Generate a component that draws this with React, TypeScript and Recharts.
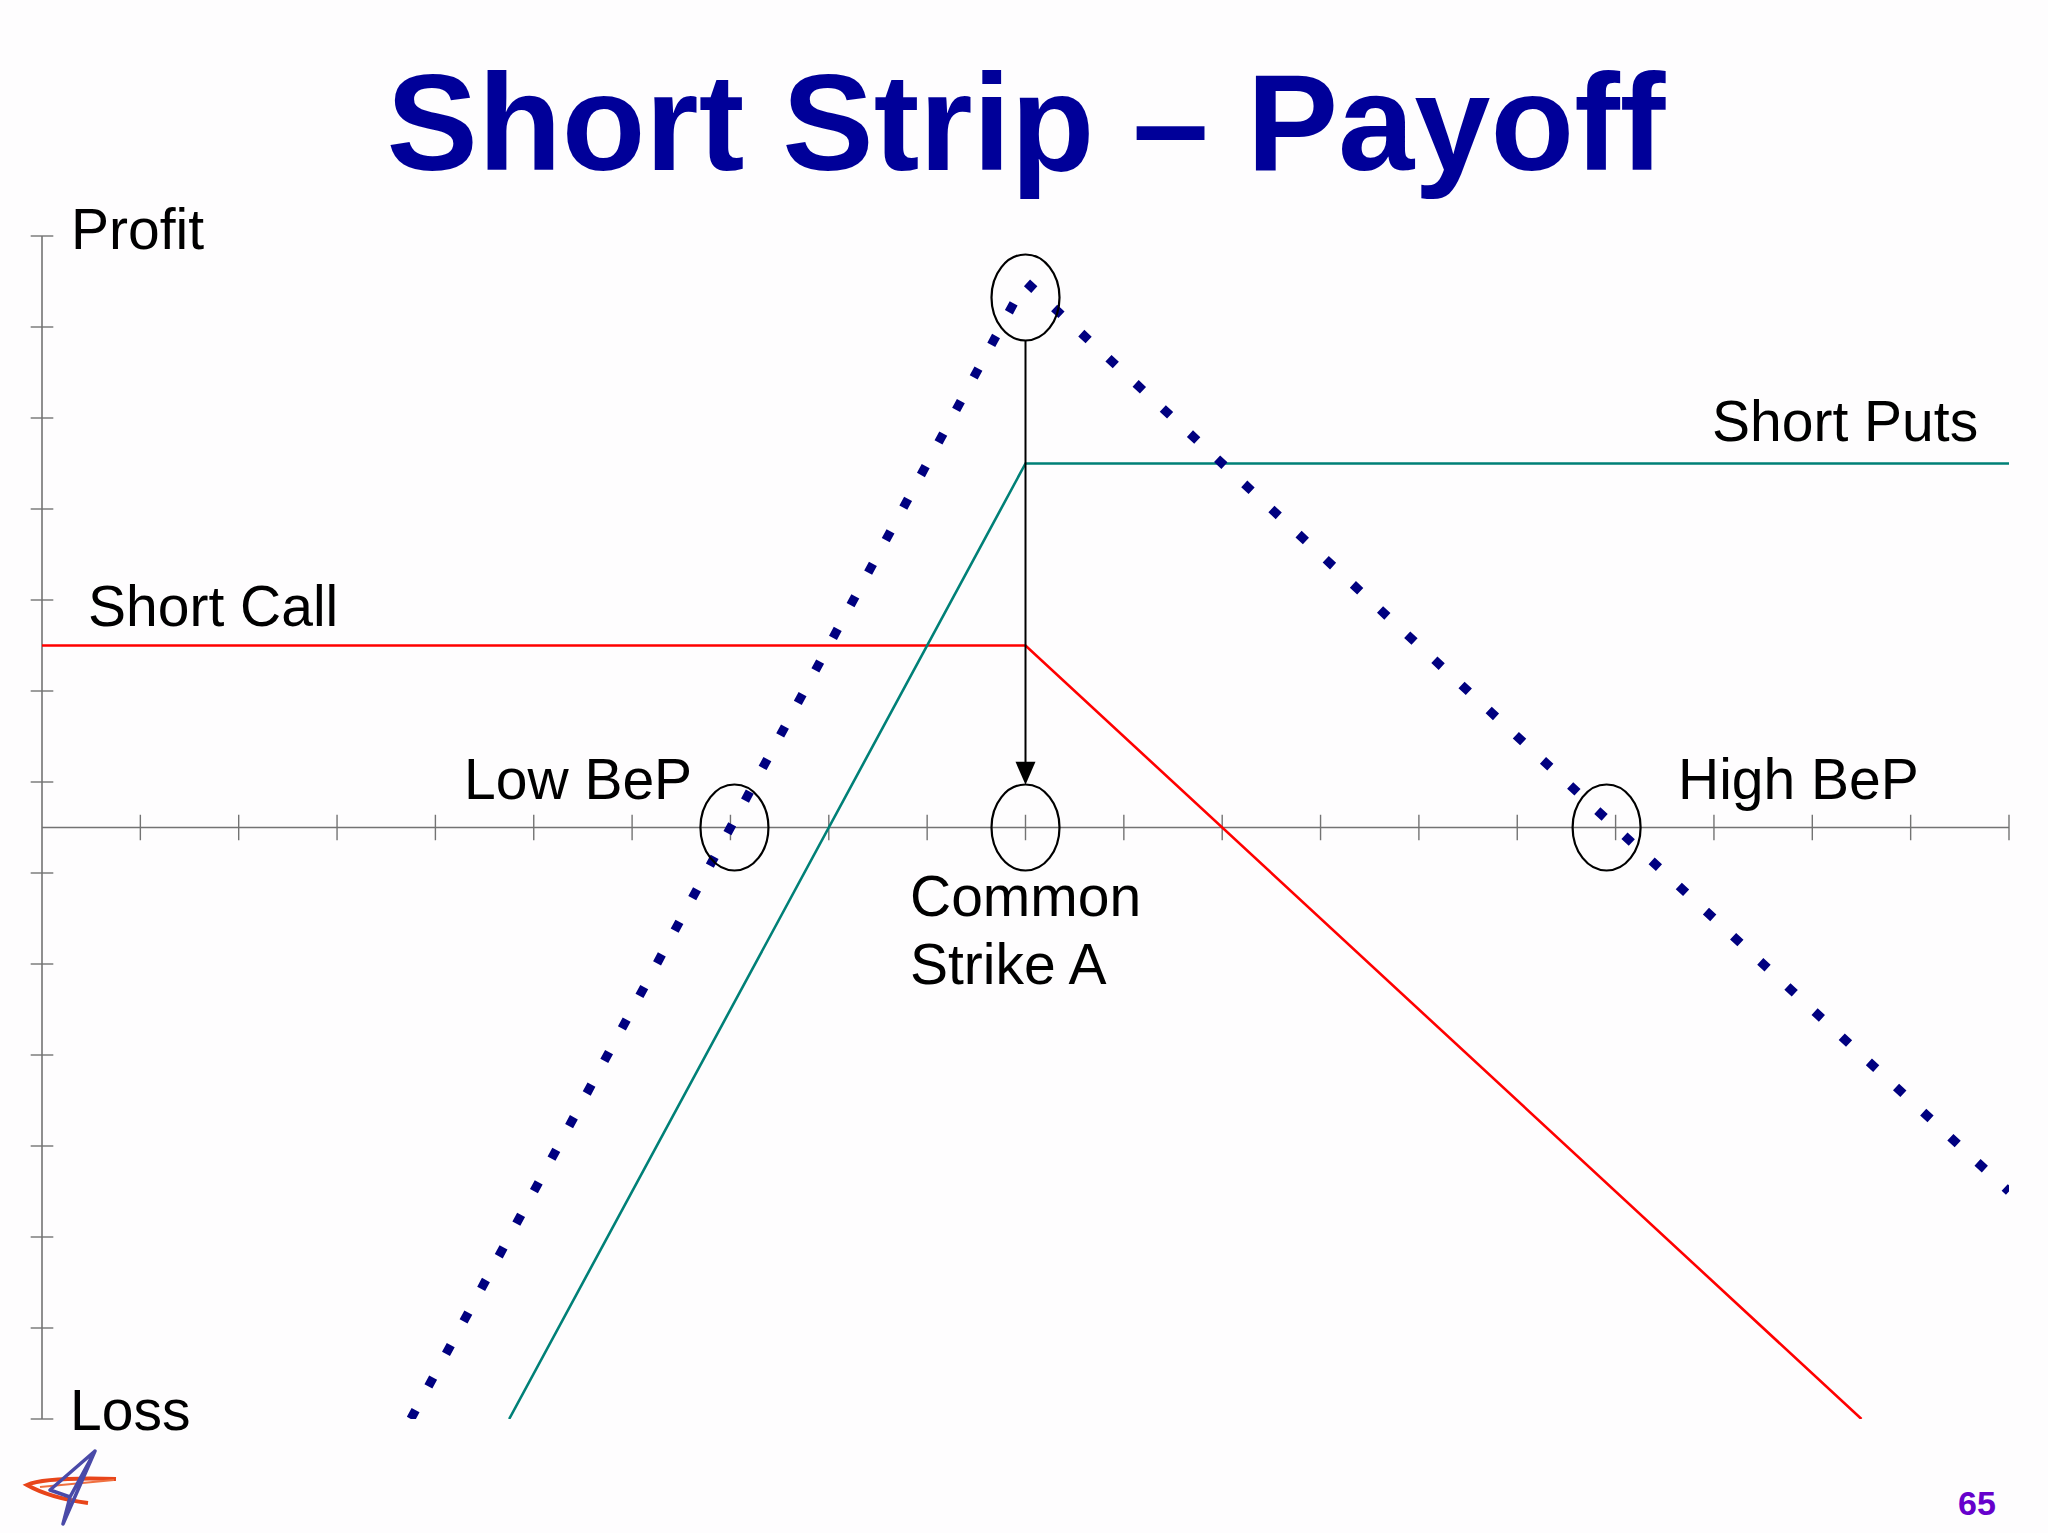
import React from "react";
import { LineChart, Line, XAxis, YAxis, ReferenceLine, ReferenceDot } from "recharts";

// Underlying price axis (0..20 units), profit/loss axis (-6.5..6.5 units)
const priceTicks = [1, 2, 3, 4, 5, 6, 7, 8, 9, 10, 11, 12, 13, 14, 15, 16, 17, 18, 19, 20];
const profitTicks = [6.5, 5.5, 4.5, 3.5, 2.5, 1.5, 0.5, -0.5, -1.5, -2.5, -3.5, -4.5, -5.5, -6.5];

// Short Call: premium 2, strike A = 10
const callX = [0, 10, 18.5];
const callY = [2, 2, -6.5];
// Short Puts (2 puts): premium 4, strike A = 10
const putsX = [4.75, 10, 20];
const putsY = [-6.5, 4, 4];
// Short Strip combined payoff
const stripX = [3.75, 10, 20];
const stripY = [-6.5, 6, -4];

const strike = 10;
const lowBeP = 7;
const highBeP = 16;
const maxProfit = 6;

const toPoints = (xs: number[], ys: number[]) => xs.map((x, i) => ({ x, y: ys[i] }));
const callData = toPoints(callX, callY);
const putsData = toPoints(putsX, putsY);
const stripData = toPoints(stripX, stripY);

const AXIS = "#737373";
const W = 2048;
const H = 1533;

const ellipse = (dx = 0, dy = 0) => (props: any) => (
  <ellipse
    cx={props.cx + dx}
    cy={props.cy + dy}
    rx={34}
    ry={43}
    fill="none"
    stroke="#000"
    strokeWidth={2.2}
  />
);

const arrowHead = (props: any) => (
  <polygon
    points={`${props.cx - 10},${props.cy - 23} ${props.cx + 10},${props.cy - 23} ${props.cx},${props.cy}`}
    fill="#000"
  />
);

export default function App() {
  const txt = { fontFamily: "Liberation Sans, Arial, sans-serif", fontSize: 57, fill: "#000" } as const;
  return (
    <div style={{ position: "absolute", left: 0, top: 0, width: W, height: H, background: "#fefdfe", overflow: "hidden" }}>
      <LineChart width={W} height={H} margin={{ top: 236, right: 39, bottom: 114, left: 42 }}>
        <XAxis dataKey="x" type="number" domain={[0, 20]} allowDataOverflow hide />
        <YAxis type="number" domain={[-6.5, 6.5]} allowDataOverflow hide />
        {/* axes */}
        <ReferenceLine segment={[{ x: 0, y: 6.5 }, { x: 0, y: -6.5 }]} stroke={AXIS} strokeWidth={1.6} ifOverflow="visible" />
        <ReferenceLine segment={[{ x: 0, y: 0 }, { x: 20, y: 0 }]} stroke={AXIS} strokeWidth={1.6} ifOverflow="visible" />
        {profitTicks.map((t) => (
          <ReferenceLine key={"yt" + t} segment={[{ x: -0.115, y: t }, { x: 0.115, y: t }]} stroke={AXIS} strokeWidth={1.4} ifOverflow="visible" />
        ))}
        {priceTicks.map((t) => (
          <ReferenceLine key={"xt" + t} segment={[{ x: t, y: -0.14 }, { x: t, y: 0.14 }]} stroke={AXIS} strokeWidth={1.4} ifOverflow="visible" />
        ))}
        {/* payoff lines */}
        <Line data={callData} dataKey="y" type="linear" stroke="#ff0000" strokeWidth={2.6} dot={false} isAnimationActive={false} />
        <Line data={putsData} dataKey="y" type="linear" stroke="#008077" strokeWidth={2.6} dot={false} isAnimationActive={false} />
        <Line
          data={stripData}
          dataKey="y"
          type="linear"
          stroke="#000080"
          strokeWidth={9}
          strokeDasharray="10 27"
          dot={false}
          isAnimationActive={false}
        />
        {/* arrow from max profit to strike */}
        <ReferenceLine segment={[{ x: strike, y: 5.35 }, { x: strike, y: 0.7 }]} stroke="#000" strokeWidth={2} ifOverflow="visible" />
        <ReferenceDot x={strike} y={0.47} r={0} shape={arrowHead} ifOverflow="visible" />
        {/* circles */}
        <ReferenceDot x={strike} y={maxProfit} r={0} shape={ellipse(0, 16)} ifOverflow="visible" />
        <ReferenceDot x={strike} y={0} r={0} shape={ellipse(0, 0)} ifOverflow="visible" />
        <ReferenceDot x={lowBeP} y={0} r={0} shape={ellipse(4, 0)} ifOverflow="visible" />
        <ReferenceDot x={highBeP} y={0} r={0} shape={ellipse(-9, 0)} ifOverflow="visible" />
      </LineChart>
      <svg width={W} height={H} style={{ position: "absolute", left: 0, top: 0, pointerEvents: "none" }}>
        <text x={1026} y={170} textAnchor="middle" fontFamily="Liberation Sans, Arial, sans-serif" fontWeight="bold" fontSize={137} fill="#000099">
          Short Strip – Payoff
        </text>
        <text x={71} y={249} {...txt}>Profit</text>
        <text x={70} y={1430} {...txt}>Loss</text>
        <text x={88} y={626} {...txt}>Short Call</text>
        <text x={1712} y={441} {...txt}>Short Puts</text>
        <text x={464} y={799} {...txt}>Low BeP</text>
        <text x={1678} y={799} {...txt}>High BeP</text>
        <text x={910} y={916} {...txt}>Common</text>
        <text x={910} y={984} {...txt}>Strike A</text>
        <text x={1958} y={1515} fontFamily="Liberation Sans, Arial, sans-serif" fontWeight="bold" fontSize={34} fill="#6600cc">
          65
        </text>
        {/* logo */}
        <path d="M 116 1479 Q 45 1477 27 1485 Q 50 1498 88 1503" fill="none" stroke="#e8451a" strokeWidth={4} />
        <path d="M 40 1487 L 114 1480" fill="none" stroke="#f07040" strokeWidth={2} />
        <path d="M 95 1451 L 50 1490 L 70 1497 L 95 1451 L 63 1524 L 70 1497" fill="none" stroke="#4a4aa8" strokeWidth={3.5} strokeLinejoin="round" />
      </svg>
    </div>
  );
}
